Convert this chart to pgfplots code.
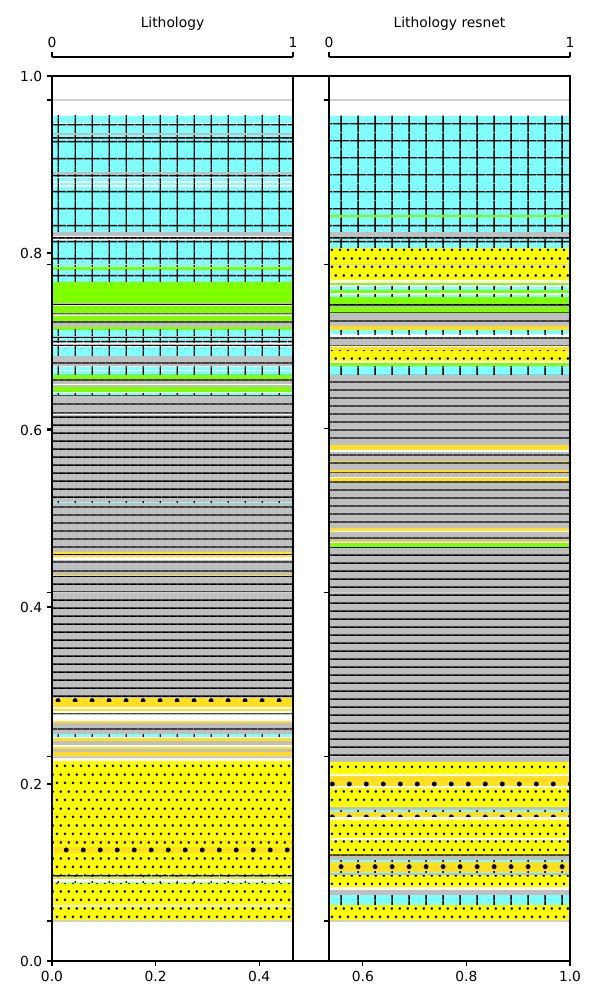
\documentclass[border=0pt]{standalone}
\usepackage{pgfplots}
\pgfplotsset{compat=1.18}
\usepackage{fontspec}
\setmainfont{DejaVu Sans}
\usetikzlibrary{patterns.meta}

\definecolor{cyanL}{HTML}{80FFFF}
\definecolor{limeG}{HTML}{80FF00}
\definecolor{shaleG}{HTML}{BFBFBF}
\definecolor{sandY}{HTML}{FFFF00}
\definecolor{goldY}{HTML}{FFDF1F}

\tikzdeclarepattern{name=lsgrid, type=uncolored,
  bounding box={(0,0) and (12bp,12bp)}, tile size={(12bp,12bp)},
  code={\draw[line width=1bp] (0,6bp) -- (12bp,6bp) (6bp,0) -- (6bp,12bp);}}
\tikzdeclarepattern{name=shlines, type=uncolored,
  bounding box={(0,0) and (6bp,6bp)}, tile size={(6bp,6bp)},
  code={\draw[line width=1bp] (0,3bp) -- (6bp,3bp);}}
\tikzdeclarepattern{name=sdots, type=uncolored,
  bounding box={(0,0) and (6bp,12bp)}, tile size={(6bp,12bp)},
  tile transformation={xshift=-1.5bp, yshift=-3bp},
  code={\fill (1.5bp,3bp) circle (1.1bp) (4.5bp,9bp) circle (1.1bp);}}
\tikzdeclarepattern{name=bdots, type=uncolored,
  bounding box={(0,0) and (12bp,24bp)}, tile size={(12bp,24bp)},
  tile transformation={xshift=3bp, yshift=-6bp},
  code={\fill (3bp,6bp) circle (1.8bp) (9bp,18bp) circle (1.8bp);}}

\tikzset{
  LC/.style={draw=none, fill=cyanL, postaction={pattern=lsgrid}},
  LG/.style={draw=none, fill=limeG},
  LS/.style={draw=none, fill=shaleG, postaction={pattern=shlines}},
  LY/.style={draw=none, fill=sandY, postaction={pattern=sdots}},
  LO/.style={draw=none, fill=goldY, postaction={pattern=bdots}},
  LD/.style={draw=none, fill=goldY},
}
\newcommand\lay[3]{\addplot[#3] coordinates {(0,#1) (1,#1) (1,#2) (0,#2)};}

\pgfplotsset{
  panel/.style={anchor=south west, scale only axis, width=173.52bp, height=637.2bp,
    xmin=0, xmax=1, ymin=76, ymax=961, y dir=reverse,
    xtick=\empty, ytick={100,264.2,428.4,592.6,756.8,921}, yticklabels={,,,,,},
    tick align=outside, ytick pos=left, major tick length=3.5bp,
    every tick/.style={black, line width=0.8bp},
    ymajorgrids, major grid style={color=black!18, line width=0.8bp},
    axis on top, axis line style={line width=0.8bp}},
  topax/.style={anchor=south west, scale only axis, width=173.52bp, height=10bp,
    xmin=0, xmax=1, ymin=0, ymax=1, axis x line=top, axis y line=none,
    axis line style={-, line width=0.8bp}, x axis line style={-},
    xtick={0,1}, tick align=outside, major tick length=3.5bp,
    every tick/.style={black, line width=0.8bp},
    ticklabel style={font=\fontsize{10}{12}\selectfont},
    /pgf/number format/assume math mode=true, clip=false},
}

\begin{document}
\begin{tikzpicture}
\useasboundingbox (0,0) rectangle (432bp,720bp);

% background axis
\begin{axis}[at={(37.44bp,28.08bp)}, anchor=south west, scale only axis,
  width=372.96bp, height=637.2bp, xmin=0, xmax=1, ymin=0, ymax=1,
  xtick={0,0.2,0.4,0.6,0.8,1}, ytick={0,0.2,0.4,0.6,0.8,1},
  tick align=outside, tick pos=left, major tick length=3.5bp,
  every tick/.style={black, line width=0.8bp},
  axis line style={line width=0.8bp},
  ticklabel style={font=\fontsize{10}{12}\selectfont},
  /pgf/number format/.cd, fixed, fixed zerofill, precision=1, assume math mode=true]
\end{axis}

% left panel
\begin{axis}[panel, at={(37.44bp,28.08bp)}]
\lay{115.7}{123.5}{LC}
\lay{125}{133.5}{LC}
\lay{133.5}{135.5}{LS}
\lay{135.5}{137.5}{LC}
\lay{137.5}{139.5}{LS}
\lay{139.5}{172.5}{LC}
\lay{172.5}{174.2}{LS}
\lay{174.2}{177}{LC}
\lay{178.5}{181.5}{LC}
\lay{183}{185.5}{LC}
\lay{187}{232.5}{LC}
\lay{232.5}{236.5}{LS}
\lay{237.5}{239.5}{LS}
\lay{240.5}{267.3}{LC}
\lay{267.3}{269.5}{LG}
\lay{269.5}{281.7}{LC}
\lay{281.7}{303}{LG}
\lay{303}{304.5}{LS}
\lay{305.5}{312.7}{LG}
\lay{313.5}{314.8}{LS}
\lay{315.5}{320.5}{LG}
\lay{320.5}{327}{LS}
\lay{327}{329.5}{LG}
\lay{329.5}{336}{LC}
\lay{336}{338}{LS}
\lay{338}{342}{LC}
\lay{343.5}{345}{LS}
\lay{346.5}{356}{LC}
\lay{356}{366}{LS}
\lay{366.5}{370}{LC}
\lay{371}{374.5}{LC}
\lay{375}{378.5}{LG}
\lay{378.5}{383.5}{LS}
\lay{385}{387.3}{LS}
\lay{387.3}{391.7}{LG}
\lay{393}{395}{LC}
\lay{395}{413.3}{LS}
\lay{415}{501.7}{LS}
\lay{501.7}{503.3}{LC}
\lay{503.3}{551.7}{LS}
\lay{551.7}{554}{LD}
\lay{554}{555}{LS}
\lay{555}{557}{LD}
\lay{560.3}{575}{LS}
\lay{575}{576.5}{LD}
\lay{576.5}{697.7}{LS}
\lay{697.7}{701.7}{LO}
\lay{701.7}{707.3}{LD}
\lay{709}{711}{LD}
\lay{713}{714.5}{LS}
\lay{720.5}{723.3}{LD}
\lay{723.3}{734.3}{LS}
\lay{734.3}{736.5}{LC}
\lay{738}{740.5}{LD}
\lay{740.5}{744.5}{LS}
\lay{746.5}{748.5}{LD}
\lay{748.5}{751.7}{LS}
\lay{751.7}{756.7}{LD}
\lay{756.7}{758.3}{LS}
\lay{760.5}{812.5}{LY}
\lay{812.5}{814}{LD}
\lay{814}{840}{LY}
\lay{840}{841.7}{LD}
\lay{841.7}{846.7}{LY}
\lay{846.7}{853.3}{LO}
\lay{853.3}{875}{LY}
\lay{875}{877}{LC}
\lay{877}{879}{LD}
\lay{881.5}{883.3}{LC}
\lay{883.3}{905}{LY}
\lay{906.7}{921}{LY}
\end{axis}

% right panel
\begin{axis}[panel, at={(236.88bp,28.08bp)}]
\lay{115.7}{215.5}{LC}
\lay{215.5}{217}{LG}
\lay{217}{232.3}{LC}
\lay{232.3}{236.7}{LS}
\lay{238}{239.5}{LS}
\lay{239.5}{247.7}{LC}
\lay{247.7}{280}{LY}
\lay{282.7}{285.3}{LG}
\lay{286.5}{290}{LC}
\lay{290}{292.5}{LG}
\lay{294.5}{296.5}{LC}
\lay{296.5}{304}{LG}
\lay{304}{306.7}{LS}
\lay{306.7}{312.7}{LG}
\lay{312.7}{326}{LS}
\lay{326}{330}{LD}
\lay{330}{334.3}{LC}
\lay{336.5}{345}{LS}
\lay{347.3}{350.5}{LD}
\lay{350.5}{360.7}{LY}
\lay{363.3}{366}{LG}
\lay{366}{375}{LC}
\lay{375}{445}{LS}
\lay{445}{450}{LD}
\lay{451.7}{461}{LS}
\lay{461}{462.3}{LD}
\lay{462.3}{470}{LS}
\lay{470}{472.5}{LD}
\lay{472.5}{476.7}{LS}
\lay{478.3}{481.7}{LD}
\lay{481.7}{527.7}{LS}
\lay{527.7}{530.7}{LD}
\lay{531.7}{541.3}{LS}
\lay{541.3}{542.3}{LD}
\lay{543.3}{547}{LG}
\lay{547}{761.7}{LS}
\lay{761.7}{773.5}{LY}
\lay{776}{786.3}{LO}
\lay{787.5}{806.7}{LY}
\lay{806.7}{810}{LS}
\lay{810}{812}{LC}
\lay{812}{816.5}{LO}
\lay{820}{838.3}{LY}
\lay{839.5}{854.5}{LY}
\lay{854.5}{860}{LS}
\lay{860}{861.7}{LC}
\lay{861.7}{871.5}{LO}
\lay{871.5}{873}{LC}
\lay{873}{875}{LS}
\lay{875}{886.7}{LY}
\lay{890}{895}{LS}
\lay{895}{905}{LC}
\lay{905}{921}{LY}
\end{axis}

% top scale axes
\begin{axis}[topax, at={(37.44bp,668.96bp)}]
\node[font=\fontsize{10}{12}\selectfont] at (rel axis cs:0.5,1) [yshift=23.76bp] {Lithology};
\end{axis}
\begin{axis}[topax, at={(236.88bp,668.96bp)}]
\node[font=\fontsize{10}{12}\selectfont] at (rel axis cs:0.5,1) [yshift=23.76bp] {Lithology resnet};
\end{axis}
\end{tikzpicture}
\end{document}
